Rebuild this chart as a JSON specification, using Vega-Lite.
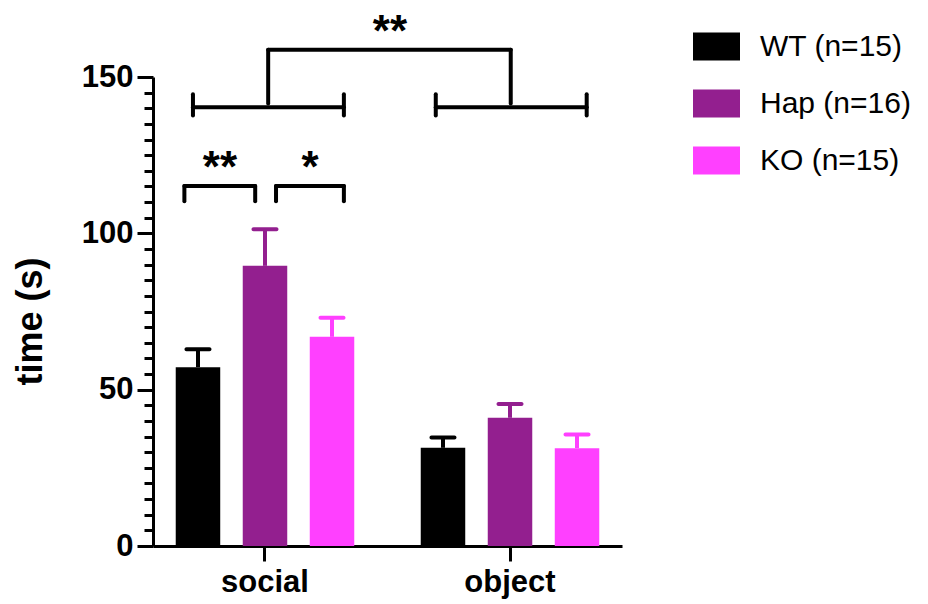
{
  "$schema": "https://vega.github.io/schema/vega-lite/v6.json",
  "width": 469,
  "height": 469,
  "autosize": {"type": "none"},
  "padding": {"left": 153, "top": 77, "right": 306, "bottom": 58},
  "background": "white",
  "config": {"view": {"stroke": null}, "font": "Liberation Sans"},
  "datasets": {
    "bars": [
      {"group": "social", "genotype": "WT", "mean": 57.2, "upper": 62.9},
      {"group": "social", "genotype": "Hap", "mean": 89.6, "upper": 101.3},
      {"group": "social", "genotype": "KO", "mean": 66.9, "upper": 73.0},
      {"group": "object", "genotype": "WT", "mean": 31.4, "upper": 34.7},
      {"group": "object", "genotype": "Hap", "mean": 41.0, "upper": 45.4},
      {"group": "object", "genotype": "KO", "mean": 31.3, "upper": 35.7}
    ],
    "brackets": [
      {"x1": 1.013, "x2": 2.003, "y1": 158.7, "y2": 158.7},
      {"x1": 1.013, "x2": 1.013, "y1": 158.7, "y2": 141.5},
      {"x1": 2.003, "x2": 2.003, "y1": 158.7, "y2": 141.5},
      {"x1": 0.706, "x2": 1.322, "y1": 140.3, "y2": 140.3},
      {"x1": 0.706, "x2": 0.706, "y1": 144.5, "y2": 137.7},
      {"x1": 1.322, "x2": 1.322, "y1": 144.5, "y2": 137.7},
      {"x1": 1.697, "x2": 2.313, "y1": 140.3, "y2": 140.3},
      {"x1": 1.697, "x2": 1.697, "y1": 144.5, "y2": 137.7},
      {"x1": 2.313, "x2": 2.313, "y1": 144.5, "y2": 137.7},
      {"x1": 0.671, "x2": 0.960, "y1": 115.1, "y2": 115.1},
      {"x1": 0.671, "x2": 0.671, "y1": 115.1, "y2": 110.3},
      {"x1": 0.960, "x2": 0.960, "y1": 115.1, "y2": 110.3},
      {"x1": 1.045, "x2": 1.322, "y1": 115.1, "y2": 115.1},
      {"x1": 1.045, "x2": 1.045, "y1": 115.1, "y2": 110.3},
      {"x1": 1.322, "x2": 1.322, "y1": 115.1, "y2": 110.3}
    ],
    "stars": [
      {"x": 1.510, "y": 160.0, "label": "**"},
      {"x": 0.816, "y": 116.5, "label": "**"},
      {"x": 1.184, "y": 116.5, "label": "*"}
    ]
  },
  "layer": [
    {
      "data": {"name": "bars"},
      "mark": {"type": "bar"},
      "encoding": {
        "x": {
          "field": "group", "type": "nominal", "sort": ["social", "object"],
          "scale": {"domain": ["social", "object"], "paddingInner": 0.18, "paddingOuter": 0.0471},
          "axis": {
            "title": null, "labelAngle": 0, "labelFontSize": 31, "labelFontWeight": "bold",
            "labelFont": "Liberation Sans", "labelColor": "black", "labelPadding": 6,
            "tickSize": 15, "tickWidth": 3, "tickColor": "black",
            "domainWidth": 3, "domainColor": "black", "grid": false
          }
        },
        "xOffset": {
          "field": "genotype", "type": "nominal",
          "scale": {"domain": ["WT", "Hap", "KO"], "paddingInner": 0.336, "paddingOuter": 0.167}
        },
        "y": {
          "field": "mean", "type": "quantitative", "title": "time (s)",
          "scale": {"domain": [0, 150], "nice": false},
          "axis": {
            "orient": "left",
            "values": [0, 5, 10, 15, 20, 25, 30, 35, 40, 45, 50, 55, 60, 65, 70, 75, 80, 85, 90, 95, 100, 105, 110, 115, 120, 125, 130, 135, 140, 145, 150],
            "tickSize": {"condition": {"test": "datum.value % 50 === 0", "value": 16}, "value": 9},
            "labelExpr": "datum.value % 50 === 0 ? datum.label : ''",
            "labelOverlap": false, "labelFlush": false,
            "labelFontSize": 31, "labelFontWeight": "bold", "labelFont": "Liberation Sans",
            "labelColor": "black", "labelPadding": 4,
            "tickWidth": 3, "tickColor": "black", "domainWidth": 3, "domainColor": "black",
            "grid": false,
            "titleFontSize": 36, "titleFontWeight": "bold", "titleFont": "Liberation Sans",
            "titleColor": "black", "titleX": -123, "titleY": 244, "titleAngle": -90,
            "titleAlign": "center", "titleBaseline": "middle"
          }
        },
        "color": {
          "field": "genotype", "type": "nominal",
          "scale": {"domain": ["WT", "Hap", "KO"], "range": ["#000000", "#931F8F", "#FF40FF"]},
          "legend": {
            "orient": "none", "legendX": 540, "legendY": -54, "title": null, "padding": 0,
            "symbolType": "M-1,-0.6H1V0.6H-1Z", "symbolSize": 2209, "symbolStrokeWidth": 0,
            "labelFontSize": 30, "labelFont": "Liberation Sans", "labelColor": "black",
            "labelOffset": 20, "rowPadding": 18, "labelLimit": 400,
            "labelExpr": "datum.label == 'WT' ? 'WT  (n=15)' : datum.label == 'Hap' ? 'Hap  (n=16)' : 'KO  (n=15)'"
          }
        }
      }
    },
    {
      "data": {"name": "bars"},
      "mark": {"type": "rule", "strokeWidth": 4},
      "encoding": {
        "x": {
          "field": "group", "type": "nominal", "sort": ["social", "object"],
          "scale": {"domain": ["social", "object"], "paddingInner": 0.18, "paddingOuter": 0.0471},
          "axis": null
        },
        "xOffset": {"field": "genotype", "type": "nominal"},
        "y": {"field": "mean", "type": "quantitative", "axis": null},
        "y2": {"field": "upper"},
        "color": {"field": "genotype", "type": "nominal", "legend": null}
      }
    },
    {
      "data": {"name": "bars"},
      "mark": {"type": "tick", "size": 27, "thickness": 4, "cornerRadius": 2},
      "encoding": {
        "x": {
          "field": "group", "type": "nominal", "sort": ["social", "object"],
          "scale": {"domain": ["social", "object"], "paddingInner": 0.18, "paddingOuter": 0.0471},
          "axis": null
        },
        "xOffset": {"field": "genotype", "type": "nominal"},
        "y": {"field": "upper", "type": "quantitative", "axis": null},
        "color": {"field": "genotype", "type": "nominal", "legend": null},
        "opacity": {"value": 1}
      }
    },
    {
      "data": {"name": "brackets"},
      "mark": {"type": "rule", "strokeWidth": 4, "color": "black", "strokeCap": "round", "clip": false},
      "encoding": {
        "x": {"field": "x1", "type": "quantitative", "scale": {"domain": [0.5429, 2.4571], "nice": false, "zero": false}, "axis": null},
        "x2": {"field": "x2"},
        "y": {"field": "y1", "type": "quantitative", "axis": null},
        "y2": {"field": "y2"}
      }
    },
    {
      "data": {"name": "stars"},
      "mark": {"type": "text", "fontSize": 44, "fontWeight": "bold", "font": "Liberation Sans", "color": "black", "align": "center", "baseline": "alphabetic", "clip": false},
      "encoding": {
        "x": {"field": "x", "type": "quantitative", "scale": {"domain": [0.5429, 2.4571], "nice": false, "zero": false}, "axis": null},
        "y": {"field": "y", "type": "quantitative", "axis": null},
        "text": {"field": "label"}
      }
    }
  ],
  "resolve": {"scale": {"x": "independent"}, "axis": {"y": "independent"}}
}
